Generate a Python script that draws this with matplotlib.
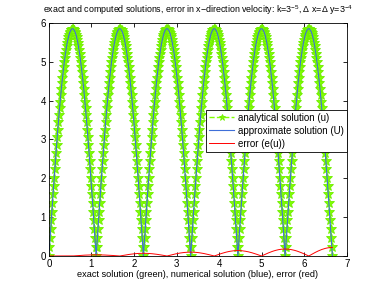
import numpy as np
import matplotlib
matplotlib.use('Agg')
import matplotlib.pyplot as plt

# half of one arch of the solution (rise from 0 to peak)
half_arch = [0.0, 0.23, 0.46, 0.69, 0.92, 1.14, 1.37, 1.59, 1.81, 2.02, 2.24,
             2.45, 2.66, 2.86, 3.06, 3.25, 3.44, 3.62, 3.80, 3.97, 4.14,
             4.30, 4.45, 4.59, 4.73, 4.86, 4.99, 5.10, 5.21, 5.31, 5.40,
             5.49, 5.56, 5.63, 5.69, 5.74, 5.78, 5.81, 5.83, 5.85, 5.85]
arch_length = 1.11
n_arches = 6
# error peaks at the arch ends (x = 0, 1.11, 2.22, ...)
error_peaks = [0.0, 0.03, 0.07, 0.10, 0.14, 0.18, 0.22]

title = r'exact and computed solutions, error in x$-$direction velocity: k=3$^{-5}$, $\Delta$ x=$\Delta$ y=3$^{-4}$'
xlabel = 'exact solution (green), numerical solution (blue), error (red)'
xticks = [0, 1, 2, 3, 4, 5, 6, 7]
yticks = [0, 1, 2, 3, 4, 5, 6]

# build the series from the arrays above
half = np.array(half_arch)
arch = np.concatenate([half, half[::-1][1:]])
u = [arch[0]]
e = [error_peaks[0]]
shape = half / half[-1]
for i in range(n_arches):
    u.extend(arch[1:])
    left = error_peaks[i] * shape[::-1]
    right = error_peaks[i + 1] * shape
    e.extend(np.concatenate([left[1:], right[1:]]))
u = np.array(u)
e = np.array(e)
x = np.linspace(0, arch_length * n_arches, len(u))

plt.rcParams['font.family'] = ['Liberation Sans', 'DejaVu Sans']
plt.rcParams['mathtext.fontset'] = 'custom'
plt.rcParams['mathtext.rm'] = 'Liberation Sans'

fig = plt.figure(figsize=(3.82, 2.87), dpi=100)
ax = fig.add_axes([0.128, 0.108, 0.78, 0.812])

ax.plot(x, u, '--*', color='#80ff00', markersize=7, linewidth=1.0,
        markeredgewidth=0.6, markeredgecolor='#70ee00', label='analytical solution (u)')
ax.plot(x, u, '-', color='#3f6fd8', linewidth=0.8, label='approximate solution (U)')
ax.plot(x, e, '-', color='red', linewidth=0.7, label='error (e(u))')

ax.set_xlim(0, 7)
ax.set_ylim(0, 6)
ax.set_xticks(xticks)
ax.set_yticks(yticks)
ax.tick_params(direction='in', top=True, right=True, labelsize=7, length=3, width=0.6, pad=2)
for s in ax.spines.values():
    s.set_linewidth(0.6)
ax.set_title(title, fontsize=6.4, pad=7)
ax.set_xlabel(xlabel, fontsize=6.6, labelpad=1)

leg = ax.legend(loc='upper right', bbox_to_anchor=(1.0, 0.627), borderaxespad=0,
                fontsize=7, fancybox=False, edgecolor='black', framealpha=1,
                handlelength=2.6, handletextpad=0.4, borderpad=0.3, labelspacing=0.3)
leg.get_frame().set_linewidth(0.6)
leg.legend_handles[0].set_markersize(5)

fig.savefig('out.png', dpi=100)
